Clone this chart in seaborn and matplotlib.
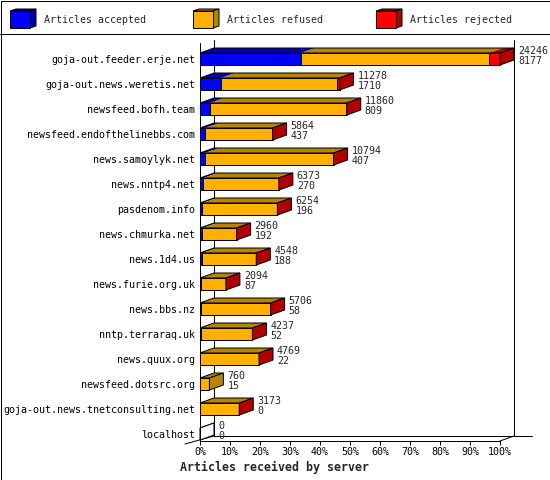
import matplotlib
matplotlib.use('Agg')
import numpy as np
import pandas as pd
import matplotlib.pyplot as plt
import seaborn as sns
from matplotlib.patches import Polygon, Rectangle

# data
servers = ['goja-out.feeder.erje.net', 'goja-out.news.weretis.net', 'newsfeed.bofh.team',
           'newsfeed.endofthelinebbs.com', 'news.samoylyk.net', 'news.nntp4.net',
           'pasdenom.info', 'news.chmurka.net', 'news.1d4.us', 'news.furie.org.uk',
           'news.bbs.nz', 'nntp.terraraq.uk', 'news.quux.org', 'newsfeed.dotsrc.org',
           'goja-out.news.tnetconsulting.net', 'localhost']
offered = [24246, 11278, 11860, 5864, 10794, 6373, 6254, 2960, 4548, 2094, 5706, 4237, 4769, 760, 3173, 0]
accepted = [8177, 1710, 809, 437, 407, 270, 196, 192, 188, 87, 58, 52, 22, 15, 0, 0]
refused = [15190, 9368, 11021, 5407, 10367, 6083, 6038, 2748, 4300, 1997, 5628, 4165, 4727, 745, 3153, 0]
rejected = [879, 200, 30, 20, 20, 20, 20, 20, 60, 10, 20, 20, 20, 0, 20, 0]

legend_names = ['Articles accepted', 'Articles refused', 'Articles rejected']
colors = ['#0000ff', '#ffb000', '#ff0000']
dark = ['#0000b0', '#b88400', '#b00000']

df = pd.DataFrame({'server': servers, 'offered': offered, 'accepted': accepted,
                   'refused': refused, 'rejected': rejected})
top_val = df['offered'].max()
df['acc_pct'] = df['accepted'] / top_val * 100
df['ref_pct'] = (df['accepted'] + df['refused']) / top_val * 100
df['tot_pct'] = (df['accepted'] + df['refused'] + df['rejected']) / top_val * 100

sns.set_style('white')
plt.rcParams['font.family'] = ['DejaVu Sans Mono']
FS = 7.2
LW = 0.72

fig = plt.figure(figsize=(5.5, 4.8), dpi=100)

# background in pixel coordinates: frame, separator and legend
bg = fig.add_axes([0, 0, 1, 1])
bg.set_xlim(0, 550)
bg.set_ylim(480, 0)
bg.axis('off')
bg.set_zorder(0)
bg.add_patch(Rectangle((0.5, 0.5), 549, 479, fill=False, ec='black', lw=LW))
bg.plot([0, 550], [34, 34], color='black', lw=LW)
for bx, name, c, d in zip([10, 193, 376], legend_names, colors, dark):
    bg.add_patch(Polygon([(bx, 11), (bx + 20, 11), (bx + 26, 9), (bx + 6, 9)], closed=True,
                         fc=d, ec='black', lw=LW))
    bg.add_patch(Polygon([(bx + 20, 11), (bx + 26, 9), (bx + 26, 26), (bx + 20, 28)], closed=True,
                         fc=d, ec='black', lw=LW))
    bg.add_patch(Rectangle((bx, 11), 20, 17, fc=c, ec='black', lw=LW))
    bg.text(bx + 34, 20, name, fontsize=FS, va='center', ha='left')

# main plot: x in percent of the largest server, y in rows
ax = fig.add_axes([200 / 550, 1 - 441 / 480, 315 / 550, 401 / 480])
ax.set_zorder(1)
ax.patch.set_alpha(0)

H = 0.24          # half bar height
DX, DY = 14 / 3, -0.2   # depth of the 3d effect

sns.barplot(data=df, x='tot_pct', y='server', order=servers, color=colors[2], saturation=1,
            width=2 * H, edgecolor='black', linewidth=LW, errorbar=None, ax=ax)
sns.barplot(data=df, x='ref_pct', y='server', order=servers, color=colors[1], saturation=1,
            width=2 * H, edgecolor='black', linewidth=LW, errorbar=None, ax=ax)
sns.barplot(data=df, x='acc_pct', y='server', order=servers, color=colors[0], saturation=1,
            width=2 * H, edgecolor='black', linewidth=LW, errorbar=None, ax=ax)

ax.set_xlim(0, 105)
ax.set_ylim(15.28, -0.76)

# back walls and floor
ax.plot([DX, DX], [-0.76, 15.28 + DY], color='black', lw=LW, zorder=0.5, clip_on=False)
ax.plot([100 + DX, 100 + DX], [-0.76, 15.28 + DY], color='black', lw=LW, zorder=0.5, clip_on=False)
ax.plot([DX, 110.7], [15.28 + DY, 15.28 + DY], color='black', lw=LW, zorder=0.5, clip_on=False)
ax.plot([-5, DX], [15.4, 15.28 + DY], color='black', lw=LW, zorder=0.5, clip_on=False)
ax.plot([100, 100 + DX], [15.28, 15.28 + DY], color='black', lw=LW, zorder=0.5, clip_on=False)
ax.plot([0, 0], [-0.64, 15.28], color='black', lw=LW, zorder=3, clip_on=False)

# top and side faces of every bar
for i, r in df.iterrows():
    y = i
    top = y - H
    edges = [0, r['acc_pct'], r['ref_pct'], r['tot_pct']]
    last = None
    for k in range(3):
        s, e = edges[k], edges[k + 1]
        if e - s > 0:
            ax.add_patch(Polygon([(s, top), (e, top), (e + DX, top + DY), (s + DX, top + DY)],
                                 closed=True, fc=dark[k], ec='none', zorder=2, clip_on=False))
            last = k
    tot = r['tot_pct']
    ax.add_patch(Polygon([(0, top), (tot, top), (tot + DX, top + DY), (DX, top + DY)],
                         closed=True, fill=False, ec='black', lw=LW, zorder=2.1, clip_on=False))
    side = dark[last] if last is not None else 'white'
    ax.add_patch(Polygon([(tot, top), (tot + DX, top + DY), (tot + DX, y + H + DY), (tot, y + H)],
                         closed=True, fc=side, ec='black', lw=LW, zorder=2.1, clip_on=False))
    ax.text(tot + DX + 1.33, y - 0.33, str(r['offered']), fontsize=FS, va='center', ha='left', zorder=3)
    ax.text(tot + DX + 1.33, y + 0.09, str(r['accepted']), fontsize=FS, va='center', ha='left', zorder=3)

for side_name in ['top', 'right', 'left']:
    ax.spines[side_name].set_visible(False)
ax.spines['bottom'].set_bounds(0, 100)
ax.spines['bottom'].set_linewidth(LW)
ax.spines['bottom'].set_color('black')

ax.set_xticks(range(0, 101, 10))
ax.set_xticklabels([f'{v}%' for v in range(0, 101, 10)])
ax.tick_params(axis='x', bottom=True, length=2.88, width=LW, pad=1.5, labelsize=FS, colors='black')
ax.tick_params(axis='y', left=False, length=0, pad=3.6, labelsize=FS, colors='black')
ax.set_xlabel('')
ax.set_ylabel('')

fig.text(274 / 550, 1 - 467 / 480, 'Articles received by server', fontsize=8.4,
         fontweight='bold', ha='center', va='center')

fig.savefig('out.png', dpi=100)
